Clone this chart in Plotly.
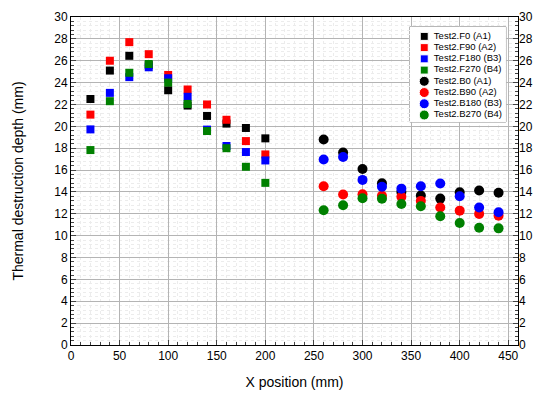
import plotly.graph_objects as go

x_front = [20, 40, 60, 80, 100, 120, 140, 160, 180, 200]
f0   = [22.5, 25.1, 26.45, 25.6, 23.3, 21.9, 20.95, 20.25, 19.85, 18.9]
f90  = [21.07, 26.0, 27.7, 26.6, 24.7, 23.37, 22.0, 20.6, 18.65, 17.43]
f180 = [19.72, 23.06, 24.5, 25.4, 24.4, 22.7, 19.7, 18.2, 17.65, 16.88]
f270 = [17.83, 22.3, 24.9, 25.7, 24.0, 22.05, 19.57, 18.0, 16.3, 14.83]

x_back = [260, 280, 300, 320, 340, 360, 380, 400, 420, 440]
b0   = [18.8, 17.6, 16.1, 14.8, 14.0, 13.67, 13.39, 13.97, 14.13, 13.92]
b90  = [14.52, 13.76, 13.79, 13.65, 13.55, 13.18, 12.57, 12.29, 11.99, 11.83]
b180 = [16.97, 17.2, 15.1, 14.47, 14.3, 14.52, 14.77, 13.6, 12.57, 12.14]
b270 = [12.32, 12.78, 13.42, 13.37, 12.9, 12.69, 11.77, 11.16, 10.73, 10.67]

names = ["Test2.F0 (A1)", "Test2.F90 (A2)", "Test2.F180 (B3)", "Test2.F270 (B4)",
         "Test2.B0 (A1)", "Test2.B90 (A2)", "Test2.B180 (B3)", "Test2.B270 (B4)"]
colors = ["#000000", "#FF0000", "#0000FF", "#008000"]
symbols = ["square"] * 4 + ["circle"] * 4
legend_colors = colors + colors

FONT = "Liberation Sans, Arial, sans-serif"
font = dict(family=FONT, color="#000000")
SQ, CI = 8, 10

fig = go.Figure()
for name, ys, c in zip(names[:4], [f0, f90, f180, f270], colors):
    fig.add_trace(go.Scatter(x=x_front, y=ys, mode="markers", name=name,
                             marker=dict(symbol="square", size=SQ, color=c, opacity=1)))
for name, ys, c in zip(names[4:], [b0, b90, b180, b270], colors):
    fig.add_trace(go.Scatter(x=x_back, y=ys, mode="markers", name=name,
                             marker=dict(symbol="circle", size=CI, color=c, opacity=1)))
# invisible trace to activate right-hand axis
fig.add_trace(go.Scatter(x=[0], y=[0], yaxis="y2", mode="markers",
                         marker=dict(opacity=0), showlegend=False, hoverinfo="skip"))

# compact inset legend (drawn on its own small axes)
rows = list(range(len(names)))
fig.add_trace(go.Scatter(
    x=[0.15] * len(names), y=rows, xaxis="x3", yaxis="y3", mode="markers",
    marker=dict(symbol=symbols, color=legend_colors, opacity=1,
                size=[SQ if s == "square" else CI for s in symbols]),
    showlegend=False, hoverinfo="skip", cliponaxis=False))
fig.add_trace(go.Scatter(
    x=[0.25] * len(names), y=rows, xaxis="x3", yaxis="y3", mode="text",
    text=names, textposition="middle right", cliponaxis=False,
    textfont=dict(family=FONT, size=9.5, color="#000000"),
    showlegend=False, hoverinfo="skip"))
fig.add_shape(type="rect", xref="x3 domain", yref="y3 domain",
              x0=0, x1=1, y0=0, y1=1, layer="below",
              fillcolor="white", line=dict(color="#808080", width=1))

grid_major = "#b4b4b4"
grid_minor = "#ececec"

# page body has an 8px default margin: size the figure to fit the window
fig.update_layout(
    width=537, height=386,
    margin=dict(l=63, r=27, t=9, b=49),
    paper_bgcolor="white", plot_bgcolor="white",
    font=dict(**font, size=12),
    showlegend=False,
    xaxis=dict(range=[0, 460], dtick=50, tick0=0, ticks="inside", ticklen=5,
               showline=True, linecolor="black", linewidth=1, mirror=True,
               showgrid=True, gridcolor=grid_major, gridwidth=1, zeroline=False,
               automargin=False,
               title=dict(text="X position (mm)", font=dict(**font, size=14), standoff=14),
               tickfont=dict(**font, size=12),
               minor=dict(dtick=10, ticks="inside", ticklen=3, showgrid=True,
                          gridcolor=grid_minor, griddash="dot", gridwidth=1)),
    yaxis=dict(range=[0, 30], dtick=2, tick0=0, ticks="inside", ticklen=5,
               showline=True, linecolor="black", linewidth=1, mirror=True,
               showgrid=True, gridcolor=grid_major, gridwidth=1, zeroline=False,
               automargin=False,
               title=dict(text="Thermal destruction depth (mm)", font=dict(**font, size=14), standoff=27),
               tickfont=dict(**font, size=12),
               minor=dict(dtick=0.4, ticks="inside", ticklen=3, showgrid=True,
                          gridcolor=grid_minor, griddash="dot", gridwidth=1)),
    yaxis2=dict(range=[0, 30], dtick=2, tick0=0, overlaying="y", side="right",
                ticks="inside", ticklen=5, showgrid=False, zeroline=False,
                automargin=False,
                showline=False, tickfont=dict(**font, size=12),
                minor=dict(dtick=0.4, ticks="inside", ticklen=3)),
    xaxis3=dict(domain=[0.758, 0.973], anchor="y3", range=[0, 1], visible=False,
                fixedrange=True),
    yaxis3=dict(domain=[0.68, 0.97], anchor="x3", range=[7.62, -0.85], visible=False,
                fixedrange=True),
)

fig.write_html("out.html")
